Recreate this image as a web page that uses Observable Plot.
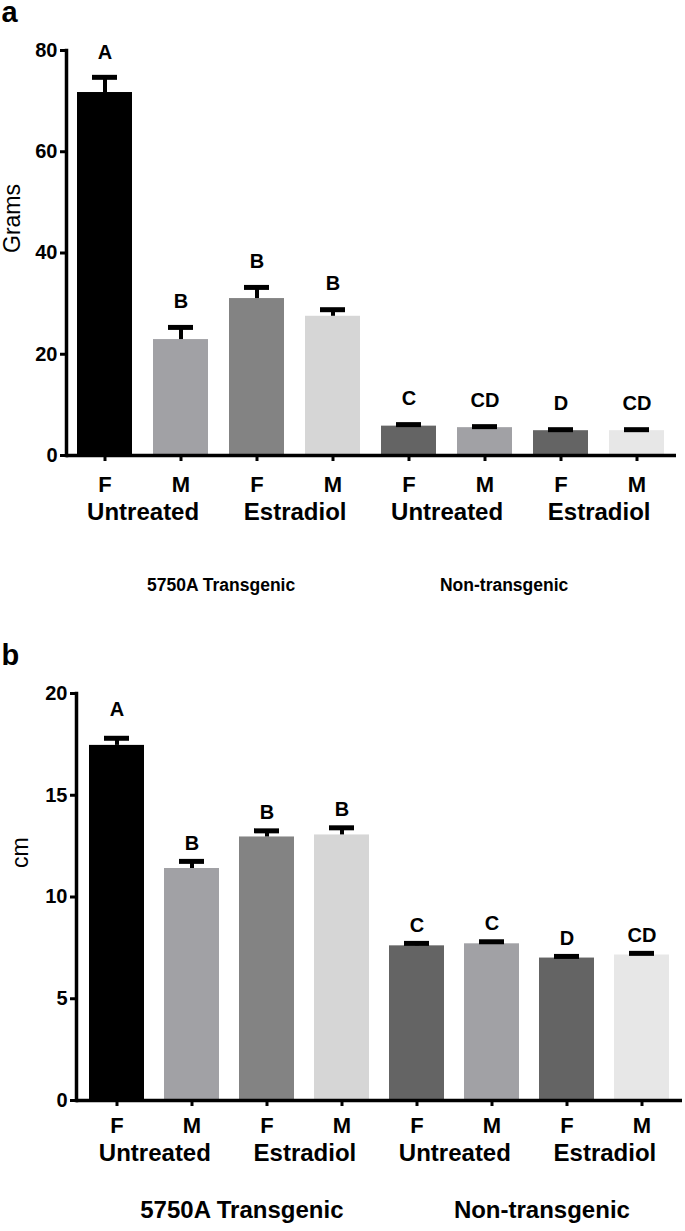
<!DOCTYPE html>
<html><head><meta charset="utf-8">
<script src="https://cdn.jsdelivr.net/npm/d3@7"></script>
<script src="https://cdn.jsdelivr.net/npm/@observablehq/plot@0.6"></script>
<style>
body{margin:0;background:#fff;font-family:"Liberation Sans",Arial,sans-serif;}
#wrap{position:relative;width:685px;height:1231px;overflow:hidden;}
.panel{position:absolute;left:0;}
</style></head><body>
<div id="wrap"></div>
<script>
// ---- data ----
const ids = ["1","2","3","4","5","6","7","8"];
const sexes = ["F","M","F","M","F","M","F","M"];
const treatments = ["Untreated","Estradiol","Untreated","Estradiol"];
const groups = ["5750A Transgenic","Non-transgenic"];
const palette = ["#000000","#a1a1a5","#838383","#d6d6d6","#646464","#a1a1a5","#646464","#e7e7e7"];

const gramsMean = [71.7, 22.9, 31.0, 27.5, 5.8, 5.5, 4.9, 4.9];
const gramsSem  = [3.0, 2.4, 2.2, 1.3, 0.3, 0.2, 0.2, 0.2];
const gramsLetters = ["A","B","B","B","C","CD","D","CD"];
const gramsTicks = [0, 20, 40, 60, 80];

const cmMean = [17.45, 11.4, 12.95, 13.05, 7.6, 7.7, 7.0, 7.15];
const cmSem  = [0.35, 0.35, 0.3, 0.35, 0.12, 0.1, 0.08, 0.08];
const cmLetters = ["A","B","B","B","C","C","D","CD"];
const cmTicks = [0, 5, 10, 15, 20];

const FONT = '"Liberation Sans", Arial, sans-serif';

function panel(cfg) {
  const rows = ids.map((id, i) => ({id, mean: cfg.mean[i], sem: cfg.sem[i], letter: cfg.letters[i]}));
  const treatRows = treatments.map((t, k) => ({id: ids[2 * k], name: t}));
  const step = (685 - cfg.mL - cfg.mR) / ids.length;
  const chart = Plot.plot({
    width: 685,
    height: cfg.height,
    marginLeft: cfg.mL, marginRight: cfg.mR, marginTop: cfg.mT, marginBottom: cfg.mB,
    style: {fontFamily: FONT, background: "#fff", color: "#000", overflow: "visible"},
    x: {domain: ids, paddingInner: 0.27, paddingOuter: 0.135, axis: null},
    y: {domain: [0, cfg.ticks[cfg.ticks.length - 1]], axis: null},
    color: {domain: ids, range: palette},
    marks: [
      Plot.barY(rows, {x: "id", y: "mean", fill: "id"}),
      Plot.ruleX(rows, {x: "id", y1: "mean", y2: d => d.mean + d.sem, strokeWidth: 4, stroke: "#000"}),
      Plot.tickY(rows, {x: "id", y: d => d.mean + d.sem, strokeWidth: 5, stroke: "#000", insetLeft: 15, insetRight: 15}),
      Plot.text(rows.slice(0, 1), {x: "id", y: d => d.mean + d.sem, text: "letter", dy: cfg.firstLetterDy, fontSize: 20, fontWeight: "bold"}),
      Plot.text(rows.slice(1), {x: "id", y: d => d.mean + d.sem, text: "letter", dy: cfg.letterDy, fontSize: 20, fontWeight: "bold"}),
      Plot.axisY({ticks: cfg.ticks, tickSize: 6, tickPadding: 3, fontSize: 20, fontWeight: "bold", strokeWidth: 3, label: null}),
      Plot.axisX({tickSize: 6, tickPadding: cfg.xPad, tickFormat: id => sexes[ids.indexOf(id)], fontSize: 22, fontWeight: "bold", strokeWidth: 3, label: null}),
      Plot.ruleY([0], {strokeWidth: 3.5}),
      Plot.frame({anchor: "left", strokeWidth: 3.5}),
      Plot.text(treatRows, {x: "id", text: "name", frameAnchor: "bottom", dx: step / 2, dy: cfg.treatDy, fontSize: 24, fontWeight: "bold"}),
      Plot.text([{id: ids[1], name: groups[0]}], {x: "id", text: "name", frameAnchor: "bottom", dx: step / 2 + cfg.g1dx, dy: cfg.groupDy, fontSize: cfg.groupSize, fontWeight: "bold"}),
      Plot.text([{id: ids[5], name: groups[1]}], {x: "id", text: "name", frameAnchor: "bottom", dx: step / 2 + cfg.g2dx, dy: cfg.groupDy, fontSize: cfg.groupSize, fontWeight: "bold"}),
      Plot.text([cfg.yLabel], {frameAnchor: "left", rotate: -90, dx: cfg.yLabelDx, dy: cfg.yLabelDy, fontSize: 23}),
      Plot.text([cfg.panelLetter], {frameAnchor: "top-left", textAnchor: "start", lineAnchor: "bottom", dx: 1 - cfg.mL, dy: cfg.letterBaseline - cfg.mT, fontSize: 29, fontWeight: "bold"})
    ]
  });
  chart.classList.add("panel");
  chart.style.top = cfg.top + "px";
  return chart;
}

const wrap = document.getElementById("wrap");
wrap.appendChild(panel({
  top: 0, height: 620, mL: 66, mR: 9, mT: 50, mB: 165,
  mean: gramsMean, sem: gramsSem, letters: gramsLetters, ticks: gramsTicks,
  firstLetterDy: -25, letterDy: -26, xPad: 15, treatDy: 64, groupDy: 135, groupSize: 17.5,
  g1dx: 2, g2dx: -19, yLabel: "Grams", yLabelDx: -54, yLabelDy: 0, panelLetter: "a", letterBaseline: 21
}));
wrap.appendChild(panel({
  top: 620, height: 611, mL: 76, mR: 3, mT: 73, mB: 131,
  mean: cmMean, sem: cmSem, letters: cmLetters, ticks: cmTicks,
  firstLetterDy: -29, letterDy: -18, xPad: 11, treatDy: 60, groupDy: 117, groupSize: 24,
  g1dx: 12, g2dx: 12, yLabel: "cm", yLabelDx: -56, yLabelDy: -29, panelLetter: "b", letterBaseline: 44
}));
</script>
</body></html>
